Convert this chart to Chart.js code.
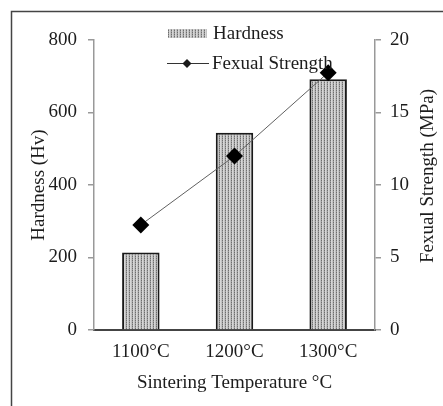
<!DOCTYPE html>
<html>
<head>
<meta charset="utf-8">
<script src="https://cdn.jsdelivr.net/npm/chart.js@4"></script>
<style>
    body { margin: 0; background: #fff; }
    #wrap { width: 443px; height: 406px; }
</style>
</head>
<body>
<div id="wrap"><canvas id="sinterChart"></canvas></div>
<script>
const temperatures = ['1100°C', '1200°C', '1300°C'];
const hardness = [214, 544, 692];
const flexuralStrength = [7.25, 12.0, 17.75];
const hardnessTicks = [0, 200, 400, 600, 800];
const strengthTicks = [0, 5, 10, 15, 20];

const serif = '"Liberation Serif", "Times New Roman", serif';
const ink = '#1c1c1c';

// dotted stripe fill like the printed bars
function makePattern() {
    const c = document.createElement('canvas');
    c.width = 3;
    c.height = 2;
    const g = c.getContext('2d');
    g.fillStyle = '#d6d6d6';
    g.fillRect(0, 0, 3, 2);
    g.fillStyle = '#c2c2c2';
    g.fillRect(2, 0, 1, 2);
    g.fillStyle = '#6e6e6e';
    g.fillRect(0, 0, 1, 1);
    g.fillStyle = '#9e9e9e';
    g.fillRect(0, 1, 1, 1);
    return g.createPattern(c, 'repeat');
}
const barFill = makePattern();

const framePlugin = {
    id: 'frame',
    beforeDraw(chart) {
        const ctx = chart.ctx;
        ctx.save();
        ctx.strokeStyle = '#444';
        ctx.lineWidth = 1.5;
        ctx.beginPath();
        ctx.moveTo(11.5, chart.height);
        ctx.lineTo(11.5, 11.5);
        ctx.lineTo(chart.width, 11.5);
        ctx.stroke();
        ctx.restore();
    },
    afterDraw(chart) {
        const ctx = chart.ctx;
        ctx.save();
        ctx.font = '19px ' + serif;
        ctx.textBaseline = 'middle';

        // legend: Hardness
        ctx.fillStyle = barFill;
        ctx.fillRect(168, 29, 39, 9);
        ctx.fillStyle = ink;
        ctx.fillText('Hardness', 213, 34);

        // legend: Fexual Strength
        ctx.strokeStyle = '#333';
        ctx.lineWidth = 1;
        ctx.beginPath();
        ctx.moveTo(167, 63.5);
        ctx.lineTo(209, 63.5);
        ctx.stroke();
        ctx.beginPath();
        ctx.moveTo(187, 59);
        ctx.lineTo(191.5, 63.5);
        ctx.lineTo(187, 68);
        ctx.lineTo(182.5, 63.5);
        ctx.closePath();
        ctx.fill();
        ctx.fillText('Fexual Strength', 212, 64);

        // right axis title reads bottom-to-top
        ctx.translate(428, 176);
        ctx.rotate(-Math.PI / 2);
        ctx.textAlign = 'center';
        ctx.fillText('Fexual Strength (MPa)', 0, 0);
        ctx.restore();
    }
};

const sinterCtx = document.getElementById('sinterChart').getContext('2d');
const sinterChart = new Chart(sinterCtx, {
    type: 'bar',
    data: {
        labels: temperatures,
        datasets: [
            {
                type: 'line',
                label: 'Fexual Strength',
                data: flexuralStrength,
                yAxisID: 'y1',
                borderColor: '#606060',
                borderWidth: 1,
                pointStyle: 'rectRot',
                pointRadius: 8.5,
                pointBackgroundColor: '#000',
                pointBorderColor: '#000',
                pointBorderWidth: 0,
                tension: 0,
                order: 0
            },
            {
                label: 'Hardness',
                data: hardness,
                yAxisID: 'y',
                backgroundColor: barFill,
                borderColor: '#1a1a1a',
                borderWidth: 2,
                barPercentage: 0.4,
                categoryPercentage: 1,
                order: 1
            }
        ]
    },
    options: {
        responsive: true,
        maintainAspectRatio: false,
        animation: false,
        layout: {
            padding: { top: 40, left: 0, right: 0, bottom: 0 }
        },
        scales: {
            x: {
                grid: { display: false, drawTicks: false },
                border: { display: true, color: '#444', width: 2 },
                ticks: {
                    color: ink,
                    padding: 11,
                    font: { family: serif, size: 19 }
                },
                title: {
                    display: true,
                    text: 'Sintering Temperature °C',
                    color: ink,
                    font: { family: serif, size: 19 },
                    padding: { top: 0, bottom: 12 }
                },
                afterFit(scale) { scale.height = 76; }
            },
            y: {
                position: 'left',
                min: 0,
                max: 800,
                afterBuildTicks(scale) {
                    scale.ticks = hardnessTicks.map(v => ({ value: v }));
                },
                grid: {
                    drawOnChartArea: false,
                    tickLength: 6,
                    color: '#999',
                    lineWidth: 1.5
                },
                border: { display: true, color: '#999', width: 1.5 },
                ticks: {
                    color: ink,
                    padding: 11,
                    font: { family: serif, size: 19 }
                },
                title: {
                    display: true,
                    text: 'Hardness (Hv)',
                    color: ink,
                    font: { family: serif, size: 19 },
                    padding: { top: 28, bottom: 0 }
                },
                afterFit(scale) { scale.width = 94; }
            },
            y1: {
                position: 'right',
                min: 0,
                max: 20,
                afterBuildTicks(scale) {
                    scale.ticks = strengthTicks.map(v => ({ value: v }));
                },
                grid: {
                    drawOnChartArea: false,
                    tickLength: 6,
                    color: '#999',
                    lineWidth: 1.5
                },
                border: { display: true, color: '#999', width: 1.5 },
                ticks: {
                    color: ink,
                    padding: 9,
                    font: { family: serif, size: 19 }
                },
                afterFit(scale) { scale.width = 68; }
            }
        },
        plugins: {
            legend: { display: false },
            tooltip: { enabled: false }
        }
    },
    plugins: [framePlugin]
});
</script>
</body>
</html>
